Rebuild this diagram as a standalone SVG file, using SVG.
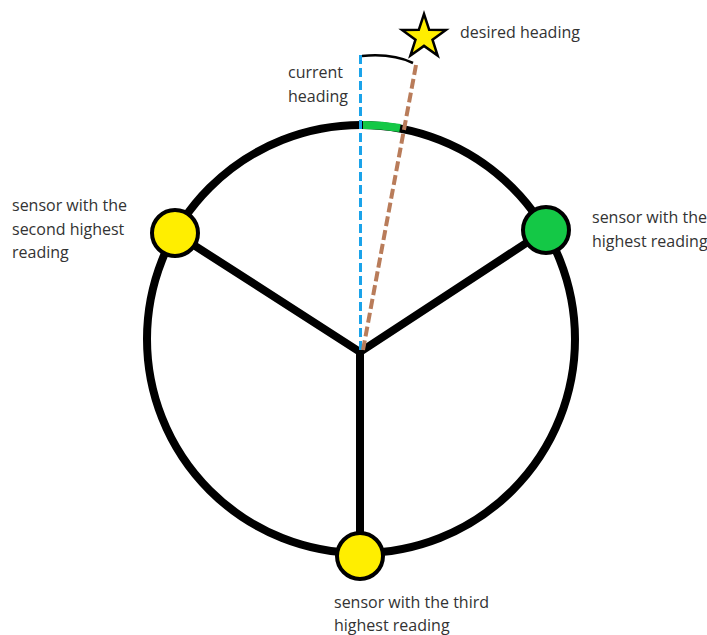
<svg xmlns="http://www.w3.org/2000/svg" width="707" height="635" viewBox="0 0 707 635">
<style>
.lbl{font-family:"Open Sans","Noto Sans",sans-serif;font-size:16px;fill:#333}
.frame{fill:none;stroke:#000;stroke-width:8}
.sensor{stroke:#000;stroke-width:4}
</style>
<rect width="707" height="635" fill="#fff"/>
<g id="frame">
<ellipse class="frame" cx="361" cy="339" rx="214" ry="214"/>
</g>
<g id="connectors">
<path class="frame" d="M175 233 L360 352 L546 230 M360 352 L360 556" stroke-linejoin="round"/>
<path d="M363 125 A214 214 0 0 1 400 128" fill="none" stroke="#14c846" stroke-width="8"/>
<line x1="360.5" y1="55" x2="360.5" y2="350" stroke="#1aa3ea" stroke-width="3" stroke-dasharray="9,4"/>
<line x1="416" y1="65" x2="363" y2="350" stroke="#b97c5a" stroke-width="4" stroke-dasharray="10,4"/>
<path d="M362 56 Q392 53 413 63" fill="none" stroke="#000" stroke-width="2.5"/>
</g>
<g id="star">
<polygon points="424,14 429.2,29.8 445.9,29.9 432.5,39.7 437.6,55.6 424,45.9 410.4,55.6 415.5,39.7 402.1,29.9 418.8,29.8" fill="#ffee00" stroke="#000" stroke-width="2.5" stroke-linejoin="miter"/>
</g>
<g id="sensor-left"><circle class="sensor" cx="175" cy="233" r="23" fill="#ffee00"/></g>
<g id="sensor-right"><circle class="sensor" cx="546" cy="230" r="23" fill="#14c846"/></g>
<g id="sensor-bottom"><circle class="sensor" cx="360" cy="556" r="23" fill="#ffee00"/></g>
<g id="labels">
<text class="lbl" x="460" y="38">desired heading</text>
<text class="lbl" x="288" y="78">current</text>
<text class="lbl" x="288" y="102">heading</text>
<text class="lbl" x="12" y="211">sensor with the</text>
<text class="lbl" x="12" y="235">second highest</text>
<text class="lbl" x="12" y="258">reading</text>
<text class="lbl" x="592" y="223">sensor with the</text>
<text class="lbl" x="592" y="247">highest reading</text>
<text class="lbl" x="334" y="608">sensor with the third</text>
<text class="lbl" x="334" y="631">highest reading</text>
</g>
</svg>
